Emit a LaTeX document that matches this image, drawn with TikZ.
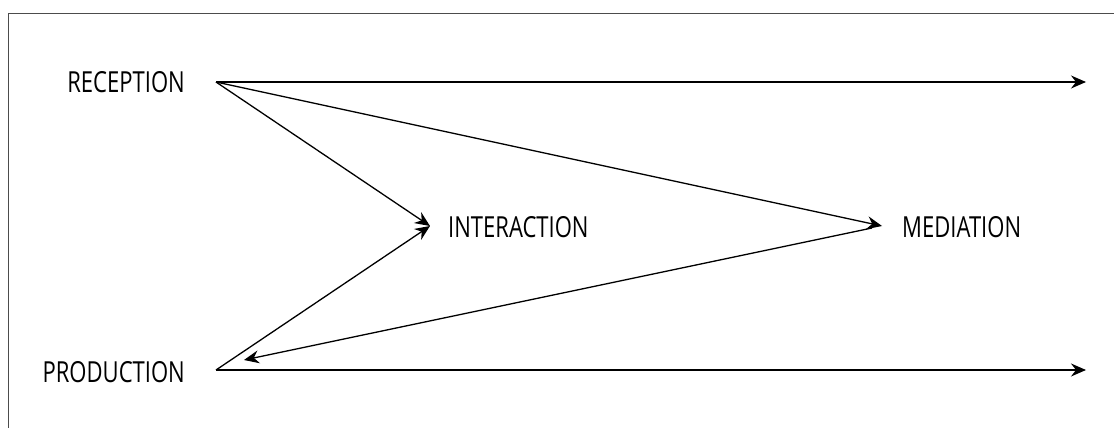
\documentclass[tikz,border=0pt]{standalone}
\usepackage{fontspec}
\setmainfont[FakeStretch=0.76]{Open Sans}
\usetikzlibrary{arrows.meta}
\tikzset{
  lbl/.style={inner sep=0pt, font=\fontsize{29}{32}\selectfont, text=black},
  conn/.style={line width=1.3pt, -{Stealth[length=15pt,width=13pt,inset=5pt]}},
  frame/.style={line width=1pt, draw=black!70}
}
\begin{document}
\begin{tikzpicture}[x=1pt,y=-1pt]
\useasboundingbox (0,0) rectangle (1114,428);
\draw[frame] (8.5,428) -- (8.5,14) -- (1114,14);
% text nodes
\node[lbl, anchor=east] (rec) at (185,82) {RECEPTION};
\node[lbl, anchor=east] (prod) at (185,372) {PRODUCTION};
\node[lbl, anchor=west] (inter) at (448,227) {INTERACTION};
\node[lbl, anchor=west] (med) at (902,227) {MEDIATION};
% ports
\coordinate (recO) at (216,82);
\coordinate (prodO) at (216,370);
\coordinate (interIn) at (430,226);
\coordinate (medIn) at (882,226);
\coordinate (medOut) at (872,228);
\coordinate (prodIn) at (244,360);
\coordinate (recEnd) at (1086,82);
\coordinate (prodEnd) at (1086,370);
% connectors
\draw[conn] (recO) -- (recEnd);
\draw[conn] (prodO) -- (prodEnd);
\draw[conn] (recO) -- (interIn);
\draw[conn] (prodO) -- (interIn);
\draw[conn] (recO) -- (medIn);
\draw[conn] (medOut) -- (prodIn);
\end{tikzpicture}
\end{document}
